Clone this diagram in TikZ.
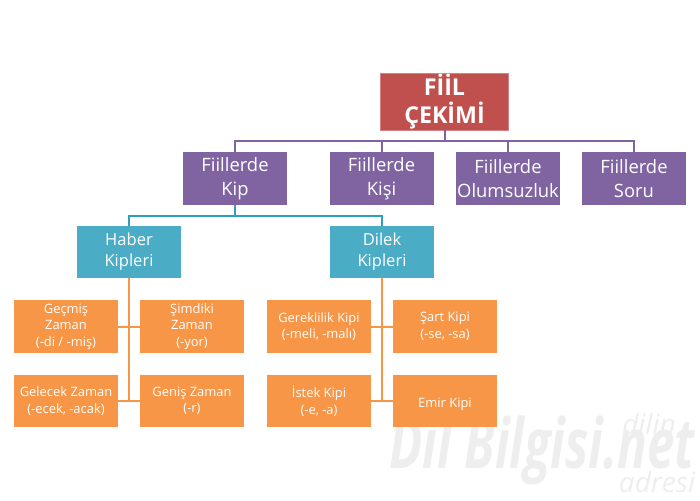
\documentclass[tikz,border=0pt]{standalone}
\usepackage{fontspec}
\setmainfont{Open Sans}
\definecolor{kirmizi}{HTML}{C0504D}
\definecolor{mor}{HTML}{8064A2}
\definecolor{turkuaz}{HTML}{4BACC6}
\definecolor{koyuturkuaz}{HTML}{2E9FBE}
\definecolor{turuncu}{HTML}{F79646}
\definecolor{filigran}{HTML}{EEEEEE}
\tikzset{
  kutu/.style={rectangle, inner sep=0pt, text=white, align=center, execute at begin node={\rule{0pt}{1.25em}}},
  anakutu/.style={kutu, fill=kirmizi, draw=kirmizi!70!white, minimum width=96pt, minimum height=42.5pt, font=\fontsize{17.4}{21}\selectfont\bfseries},
  morkutu/.style={kutu, fill=mor, draw=mor, minimum width=77pt, minimum height=39pt, font=\fontsize{13.8}{18}\selectfont},
  mavikutu/.style={kutu, fill=turkuaz, minimum width=78pt, minimum height=39pt, font=\fontsize{12.4}{15.6}\selectfont},
  turuncukutu/.style={kutu, fill=turuncu, minimum width=78pt, minimum height=39.5pt, font=\fontsize{9.7}{12.4}\selectfont},
  morhat/.style={draw=mor, line width=1.5pt},
  mavihat/.style={draw=koyuturkuaz, line width=1.5pt},
  turuncuhat/.style={draw=turuncu, line width=1.5pt},
  filigranyazi/.style={text=filigran, transform shape}
}
\begin{document}
\begin{tikzpicture}[x=0.75pt, y=-0.75pt]
  \useasboundingbox (0,0) rectangle (700,500);
  % filigran
  \node[filigranyazi, xscale=0.71, font=\fontsize{52}{52}\selectfont\itshape\bfseries] (filigran) at (542,450) {Dil Bilgisi.net};
  \node[filigranyazi, font=\fontsize{21}{21}\selectfont\itshape] (dilin) at (649,424) {dilin};
  \node[filigranyazi, font=\fontsize{21}{21}\selectfont\itshape] (adresi) at (657,482) {adresi};
  % kutular
  \node[anakutu] (fiil) at (444.5,101.5) {FİİL\\ÇEKİMİ};
  \node[morkutu] (kip) at (235,178.5) {Fiillerde\\Kip};
  \node[morkutu] (kisi) at (381.5,178.5) {Fiillerde\\Kişi};
  \node[morkutu] (olumsuz) at (508,178.5) {Fiillerde\\Olumsuzluk};
  \node[morkutu] (soru) at (634,178.5) {Fiillerde\\Soru};
  \node[mavikutu] (haber) at (129,252) {Haber\\Kipleri};
  \node[mavikutu] (dilek) at (382,252) {Dilek\\Kipleri};
  \node[turuncukutu] (gecmis) at (66,326.5) {Geçmiş\\Zaman\\(-di / -miş)};
  \node[turuncukutu] (simdiki) at (192,326.5) {Şimdiki\\Zaman\\(-yor)};
  \node[turuncukutu] (gelecek) at (66,401) {Gelecek Zaman\\(-ecek, -acak)};
  \node[turuncukutu] (genis) at (192,401) {Geniş Zaman\\(-r)};
  \node[turuncukutu] (gereklilik) at (319,326.5) {Gereklilik Kipi\\(-meli, -malı)};
  \node[turuncukutu] (sart) at (445,326.5) {Şart Kipi\\(-se, -sa)};
  \node[turuncukutu] (istek) at (319,401) {İstek Kipi\\(-e, -a)};
  \node[turuncukutu] (emir) at (445,401) {Emir Kipi};
  % hatlar
  \coordinate (morbara) at (444.5,141);
  \coordinate (mavibara) at (235,215.5);
  \draw[morhat] (fiil.south) -- (morbara);
  \foreach \hedef in {kip,kisi,olumsuz,soru} { \draw[morhat] (morbara) -| (\hedef.north); }
  \draw[mavihat] (kip.south) -- (mavibara);
  \foreach \hedef in {haber,dilek} { \draw[mavihat] (mavibara) -| (\hedef.north); }
  \draw[turuncuhat] (haber.south) -- (haber.south |- gelecek.east);
  \draw[turuncuhat] (dilek.south) -- (dilek.south |- istek.east);
  \draw[turuncuhat] (gecmis.east) -- (simdiki.west);
  \draw[turuncuhat] (gelecek.east) -- (genis.west);
  \draw[turuncuhat] (gereklilik.east) -- (sart.west);
  \draw[turuncuhat] (istek.east) -- (emir.west);
\end{tikzpicture}
\end{document}
